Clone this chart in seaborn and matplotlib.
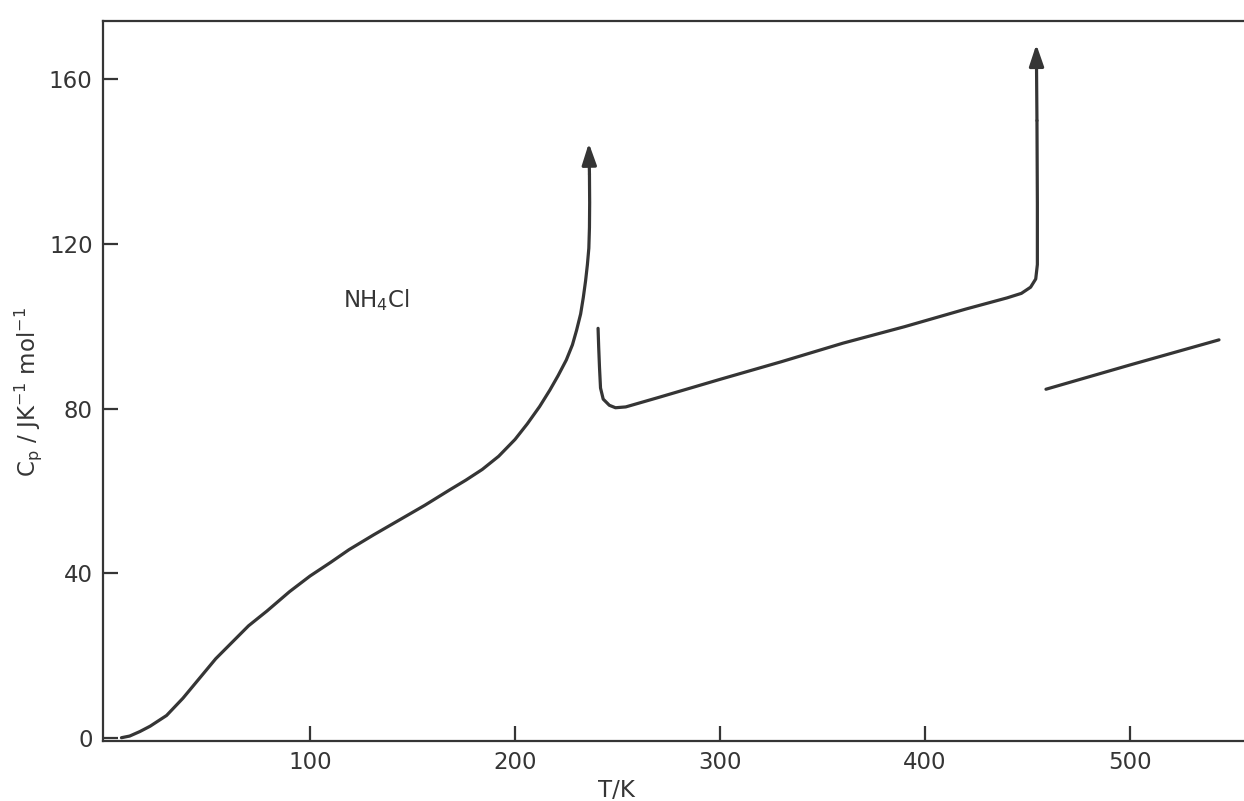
import numpy as np
import pandas as pd
import matplotlib
matplotlib.use("Agg")
import matplotlib.pyplot as plt
import seaborn as sns

# ---- data (T in K, Cp in J K^-1 mol^-1) ----
T_low = [8, 12, 17, 22, 30, 38, 46, 54, 62, 70, 79, 90, 100, 110, 119, 131,
         143.5, 156, 168, 176, 184, 192, 200, 206, 212, 217, 221, 225, 228,
         230, 232, 233.3, 234.4, 235.3, 236, 236.3, 236.4, 236.3, 236]
Cp_low = [0, 0.4, 1.5, 2.8, 5.4, 9.6, 14.4, 19.2, 23.2, 27.2, 30.8, 35.5, 39.3,
          42.6, 45.7, 49.3, 52.9, 56.5, 60.2, 62.6, 65.2, 68.4, 72.5, 76.3,
          80.5, 84.5, 88, 91.8, 95.5, 99, 103, 107, 111, 115, 119, 124, 130,
          137, 144.5]

T_mid = [240.5, 240.8, 241.2, 241.7, 243, 246, 249, 254, 270, 300, 330, 360,
         390, 420, 440, 447, 451.5, 454, 454.8, 454.8, 454.6, 454.3]
Cp_mid = [99.5, 95, 90, 85, 82.3, 80.8, 80.2, 80.4, 82.7, 87.1, 91.4, 95.9,
          99.9, 104.2, 106.9, 108, 109.5, 111.5, 115, 130, 150, 168.5]

T_high = [459, 500, 543.4]
Cp_high = [84.7, 90.6, 96.7]

x_ticks = [100, 200, 300, 400, 500]
y_ticks = [0, 40, 80, 120, 160]
x_label = "T/K"
y_label = r"C$_p$ / JK$^{-1}$ mol$^{-1}$"
compound = r"NH$_4$Cl"

# ---- style ----
sns.set_style("ticks")
plt.rcParams["font.family"] = ["DejaVu Sans"]
plt.rcParams["mathtext.default"] = "regular"
ink = "#353535"

fig = plt.figure(figsize=(12.44, 8.01), dpi=100)
ax = fig.add_axes([103 / 1244, 60 / 801, 1141 / 1244, 720 / 801])

segments = [("low", T_low, Cp_low, True),
            ("mid", T_mid, Cp_mid, True),
            ("high", T_high, Cp_high, False)]

for name, T, Cp, arrow in segments:
    df = pd.DataFrame({"T": T, "Cp": Cp})
    body = df.iloc[:-1] if arrow else df
    sns.lineplot(data=body, x="T", y="Cp", sort=False, estimator=None,
                 color=ink, lw=2.3, ax=ax, solid_capstyle="round",
                 solid_joinstyle="round")
    if arrow:
        ax.annotate("", xy=(T[-1], Cp[-1]), xytext=(T[-2], Cp[-2]),
                    arrowprops=dict(arrowstyle="-|>,head_length=0.65,head_width=0.22",
                                    mutation_scale=20, color=ink, lw=2.3,
                                    shrinkA=0, shrinkB=0))

ax.set_xlim(-1, 555.6)
ax.set_ylim(-0.8, 174.2)
ax.set_xticks(x_ticks)
ax.set_yticks(y_ticks)

for side in ["left", "bottom", "top"]:
    ax.spines[side].set_color(ink)
    ax.spines[side].set_linewidth(1.6)
ax.spines["right"].set_visible(False)

ax.tick_params(axis="both", direction="in", length=11, width=1.6,
               colors=ink, labelsize=16.5, pad=7.5)
ax.tick_params(top=False, right=False)

ax.set_xlabel(x_label, fontsize=16.5, color=ink)
ax.xaxis.set_label_coords(0.450, -0.069)
ax.xaxis.label.set_va("center")
ax.set_ylabel(y_label, fontsize=16.5, color=ink)
ax.yaxis.set_label_coords(-0.0657, 0.485)
ax.yaxis.label.set_va("center")

ax.text(116, 106.3, compound, fontsize=16.5, color=ink, ha="left", va="center")

ax.grid(False)
fig.savefig("out.png", dpi=100, facecolor="white")
